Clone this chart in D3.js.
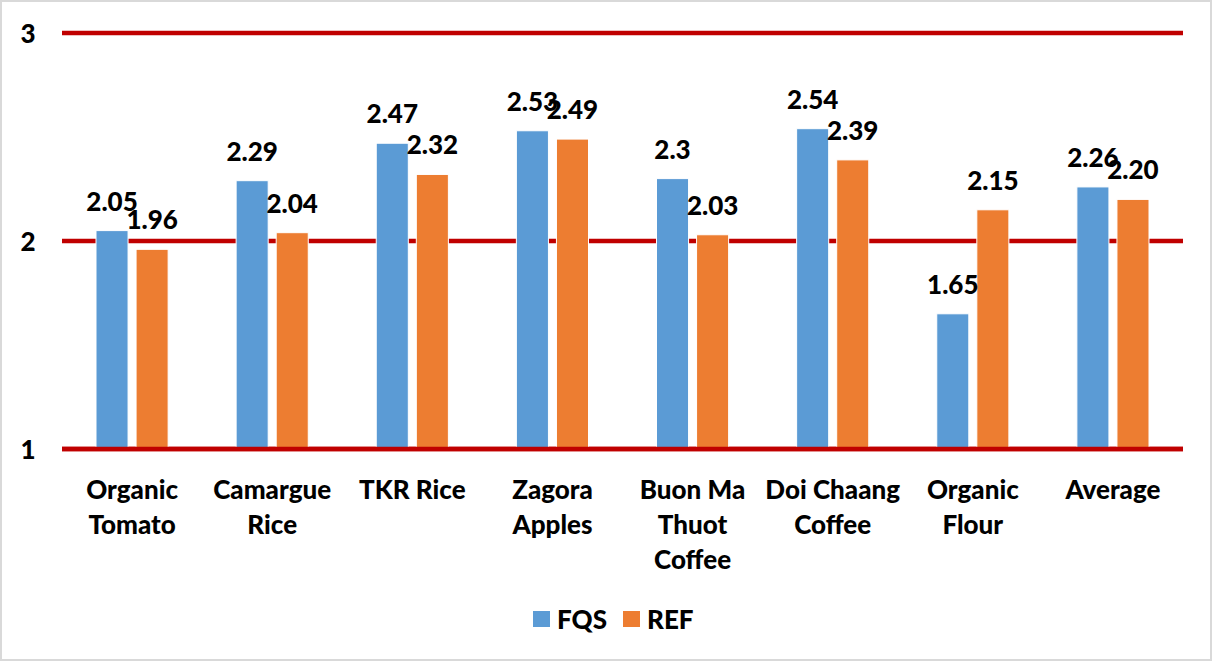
<!DOCTYPE html>
<html>
<head>
<meta charset="utf-8">
<script src="https://cdn.jsdelivr.net/npm/d3@7"></script>
<style>
  body { margin: 0; background: #fff; }
  text { font-family: Lato, "Open Sans", sans-serif; font-weight: 900; fill: #000; }
</style>
</head>
<body>
<div id="chart"></div>
<script>
const categories = ['Organic\nTomato', 'Camargue\nRice', 'TKR Rice', 'Zagora\nApples',
    'Buon Ma\nThuot\nCoffee', 'Doi Chaang\nCoffee', 'Organic\nFlour', 'Average'];
const fqsValues = [2.05, 2.29, 2.47, 2.53, 2.3, 2.54, 1.65, 2.26];
const refValues = [1.96, 2.04, 2.32, 2.49, 2.03, 2.39, 2.15, 2.20];
const fqsLabels = ['2.05', '2.29', '2.47', '2.53', '2.3', '2.54', '1.65', '2.26'];
const refLabels = ['1.96', '2.04', '2.32', '2.49', '2.03', '2.39', '2.15', '2.20'];
const yTicks = [1, 2, 3];
const seriesNames = ['FQS', 'REF'];

const width = 1212, height = 661;
const colors = { FQS: '#5B9BD5', REF: '#ED7D31' };

const svg = d3.select('#chart').append('svg')
    .attr('width', width)
    .attr('height', height);

// outer frame
svg.append('rect')
    .attr('x', 1).attr('y', 1)
    .attr('width', width - 2).attr('height', height - 2)
    .attr('fill', 'white')
    .attr('stroke', '#d9d9d9')
    .attr('stroke-width', 2);

const x = d3.scaleBand()
    .domain(categories)
    .range([62, 1183])
    .padding(0);

const xSub = d3.scaleBand()
    .domain(seriesNames)
    .range([34, x.bandwidth() - 34])
    .paddingInner(0.2);

const y = d3.scaleLinear()
    .domain([1, 3])
    .range([449, 33]);

// gridlines
svg.append('g')
    .selectAll('line')
    .data(yTicks)
    .join('line')
    .attr('x1', 62)
    .attr('x2', 1183)
    .attr('y1', d => y(d))
    .attr('y2', d => y(d))
    .attr('stroke', '#C00000')
    .attr('stroke-width', 4.5);

svg.append('g')
    .selectAll('text')
    .data(yTicks)
    .join('text')
    .attr('x', 28)
    .attr('y', d => y(d))
    .attr('text-anchor', 'middle')
    .attr('dominant-baseline', 'central')
    .style('font-size', '26px')
    .text(d => d);

const rows = categories.map((c, i) => ({
    cat: c,
    vals: [
        { key: 'FQS', value: fqsValues[i], label: fqsLabels[i] },
        { key: 'REF', value: refValues[i], label: refLabels[i] }
    ]
}));

const groups = svg.append('g')
    .selectAll('g')
    .data(rows)
    .join('g')
    .attr('transform', d => `translate(${x(d.cat)}, 0)`);

groups.selectAll('rect')
    .data(d => d.vals)
    .join('rect')
    .attr('x', d => xSub(d.key))
    .attr('width', xSub.bandwidth())
    .attr('y', d => y(d.value))
    .attr('height', d => y(1) - y(d.value))
    .attr('fill', d => colors[d.key])
    .attr('stroke', 'white')
    .attr('stroke-width', 1);

groups.selectAll('text.val')
    .data(d => d.vals)
    .join('text')
    .attr('class', 'val')
    .attr('x', d => xSub(d.key) + xSub.bandwidth() / 2)
    .attr('y', d => y(d.value) - 20)
    .attr('text-anchor', 'middle')
    .style('font-size', '26px')
    .text(d => d.label);

// bottom axis line over bars
svg.append('line')
    .attr('x1', 62).attr('x2', 1183)
    .attr('y1', y(1)).attr('y2', y(1))
    .attr('stroke', '#C00000')
    .attr('stroke-width', 4.5);

// category labels
const catLabels = svg.append('g')
    .selectAll('text')
    .data(categories)
    .join('text')
    .attr('text-anchor', 'middle')
    .style('font-size', '26px')
    .attr('transform', d => `translate(${x(d) + x.bandwidth() / 2}, 489)`);

catLabels.selectAll('tspan')
    .data(d => d.split('\n'))
    .join('tspan')
    .attr('x', 0)
    .attr('y', (d, i) => i * 35)
    .attr('dominant-baseline', 'central')
    .text(d => d);

// legend
const legendItems = [
    { key: 'FQS', x: 533, tx: 557 },
    { key: 'REF', x: 623, tx: 647 }
];
const legend = svg.append('g');
legend.selectAll('rect')
    .data(legendItems)
    .join('rect')
    .attr('x', d => d.x)
    .attr('y', 611)
    .attr('width', 17)
    .attr('height', 16)
    .attr('fill', d => colors[d.key]);
legend.selectAll('text')
    .data(legendItems)
    .join('text')
    .attr('x', d => d.tx)
    .attr('y', 619)
    .attr('dominant-baseline', 'central')
    .style('font-size', '26px')
    .text(d => d.key);
</script>
</body>
</html>
